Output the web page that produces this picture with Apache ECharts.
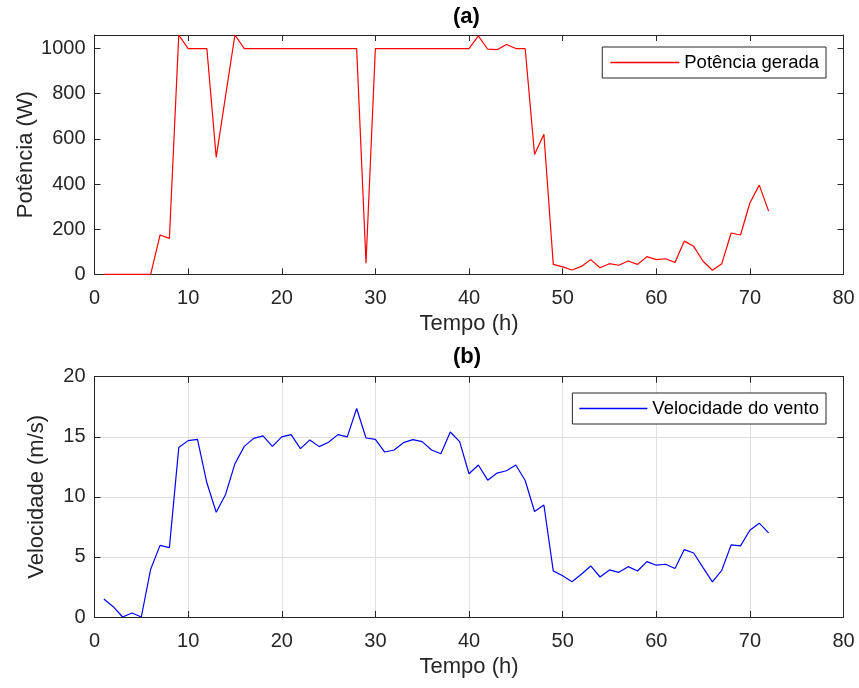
<!DOCTYPE html>
<html>
<head>
<meta charset="utf-8">
<script src="https://cdn.jsdelivr.net/npm/echarts@6/dist/echarts.min.js"></script>
<style>html,body{margin:0;padding:0;background:#fff}#c{width:859px;height:688px}</style>
</head>
<body>
<div id="c"></div>
<script>
var hours = [1,2,3,4,5,6,7,8,9,10,11,12,13,14,15,16,17,18,19,20,21,22,23,24,25,26,27,28,29,30,31,32,33,34,35,36,37,38,39,40,41,42,43,44,45,46,47,48,49,50,51,52,53,54,55,56,57,58,59,60,61,62,63,64,65,66,67,68,69,70,71,72];
var potencia = [0,0,0,0,0,0,174,159,1060,1000,1000,1000,518,790,1060,1000,1000,1000,1000,1000,1000,1000,1000,1000,1000,1000,1000,1000,49,1000,1000,1000,1000,1000,1000,1000,1000,1000,1000,1000,1056,997,995,1018,1000,1000,531,620,44,33,19,35,65,29,47,40,59,44,78,65,69,52,147,124,58,18,47,183,174,316,395,280];
var velocidade = [1.5,0.86,0,0.33,0,3.98,5.96,5.77,14.1,14.68,14.79,11.17,8.72,10.2,12.76,14.2,14.87,15.07,14.2,14.99,15.18,14.01,14.74,14.18,14.54,15.18,14.99,17.35,14.9,14.78,13.73,13.9,14.51,14.76,14.6,13.9,13.59,15.4,14.6,11.92,12.65,11.39,11.98,12.17,12.65,11.36,8.78,9.32,3.84,3.44,2.94,3.56,4.25,3.33,3.92,3.72,4.19,3.83,4.61,4.31,4.39,4.03,5.61,5.33,4.11,2.92,3.89,6.0,5.92,7.22,7.81,7.0];
var xTicks = [0,10,20,30,40,50,60,70,80];
var yTicksA = [0,200,400,600,800,1000];
var yTicksB = [0,5,10,15,20];

var FONT = '"Liberation Sans", Arial, Helvetica, sans-serif';
var AX = '#262626';
function pairs(xs, ys){ return xs.map(function(x,i){ return [x, ys[i]]; }); }
function plain(v){ return String(v); }

var gridL = 94.5, gridW = 749;
function xAx(gi, top, showGrid){
  return {
    type:'value', gridIndex:gi, min:0, max:80, interval:10,
    position: top ? 'top' : 'bottom',
    name: top ? '' : 'Tempo (h)', nameLocation:'middle', nameGap:39, nameMoveOverlap:false,
    nameTextStyle:{fontFamily:FONT, fontSize:22, color:AX},
    axisLine:{show:true, onZero:false, lineStyle:{color:AX, width:1}},
    axisTick:{show:true, inside:true, length:6, lineStyle:{color:AX, width:1}},
    axisLabel:{show:!top, margin:14, fontFamily:FONT, fontSize:20, color:AX, formatter:plain},
    splitLine:{show:showGrid && !top, lineStyle:{color:'#dfdfdf', width:1}}
  };
}
function yAx(gi, right, max, interval, name, gap, showGrid, hideMax){
  return {
    type:'value', gridIndex:gi, min:0, max:max, interval:interval,
    position: right ? 'right' : 'left',
    name: right ? '' : name, nameLocation:'middle', nameGap:gap, nameMoveOverlap:false,
    nameTextStyle:{fontFamily:FONT, fontSize:22, color:AX},
    axisLine:{show:true, onZero:false, lineStyle:{color:AX, width:1}},
    axisTick:{show:true, inside:true, length:6, lineStyle:{color:AX, width:1}},
    axisLabel:{show:!right, margin:9, fontFamily:FONT, fontSize:20, color:AX, showMaxLabel: !hideMax, formatter:plain},
    splitLine:{show:showGrid && !right, lineStyle:{color:'#dfdfdf', width:1}}
  };
}

var chart = echarts.init(document.getElementById('c'), null, {renderer:'canvas'});
chart.setOption({
  animation:false,
  backgroundColor:'#fff',
  graphic:[
    {type:'text', left:469-16, top:6, style:{text:'(a)', font:'bold 22px ' + FONT, fill:'#000', textAlign:'left'}},
    {type:'text', left:469-16, top:346, style:{text:'(b)', font:'bold 22px ' + FONT, fill:'#000', textAlign:'left'}}
  ],
  grid:[
    {left:gridL, width:gridW, top:35, height:239.3, containLabel:false, outerBoundsMode:'none'},
    {left:gridL, width:gridW, top:376.7, height:240.3, containLabel:false, outerBoundsMode:'none'}
  ],
  xAxis:[ xAx(0,false,false), xAx(0,true,false), xAx(1,false,true), xAx(1,true,true) ],
  yAxis:[
    yAx(0,false,1060,200,'Potência (W)',58,false,true),
    yAx(0,true,1060,200,'',0,false,true),
    yAx(1,false,20,5,'Velocidade (m/s)',47,true,false),
    yAx(1,true,20,5,'',0,true,false)
  ],
  legend:[
    {data:['Potência gerada'], right:33, top:47, orient:'vertical',
     icon:'rect', itemWidth:69, itemHeight:1.5, itemGap:0,
     padding:[5,7,5,8], borderColor:AX, borderWidth:1, backgroundColor:'#fff',
     textStyle:{fontFamily:FONT, fontSize:18.5, color:'#000', lineHeight:21}},
    {data:['Velocidade do vento'], right:33, top:393, orient:'vertical',
     icon:'rect', itemWidth:68, itemHeight:1.5, itemGap:0,
     padding:[5,7,5,7], borderColor:AX, borderWidth:1, backgroundColor:'#fff',
     textStyle:{fontFamily:FONT, fontSize:18.5, color:'#000', lineHeight:21}}
  ],
  series:[
    {name:'Potência gerada', type:'line', xAxisIndex:0, yAxisIndex:0, data:pairs(hours, potencia),
     showSymbol:false, symbol:'none', lineStyle:{color:'#ff0000', width:1.2}, itemStyle:{color:'#ff0000'}},
    {name:'Velocidade do vento', type:'line', xAxisIndex:2, yAxisIndex:2, data:pairs(hours, velocidade),
     showSymbol:false, symbol:'none', lineStyle:{color:'#0000ff', width:1.2}, itemStyle:{color:'#0000ff'}}
  ]
});
</script>
</body>
</html>
